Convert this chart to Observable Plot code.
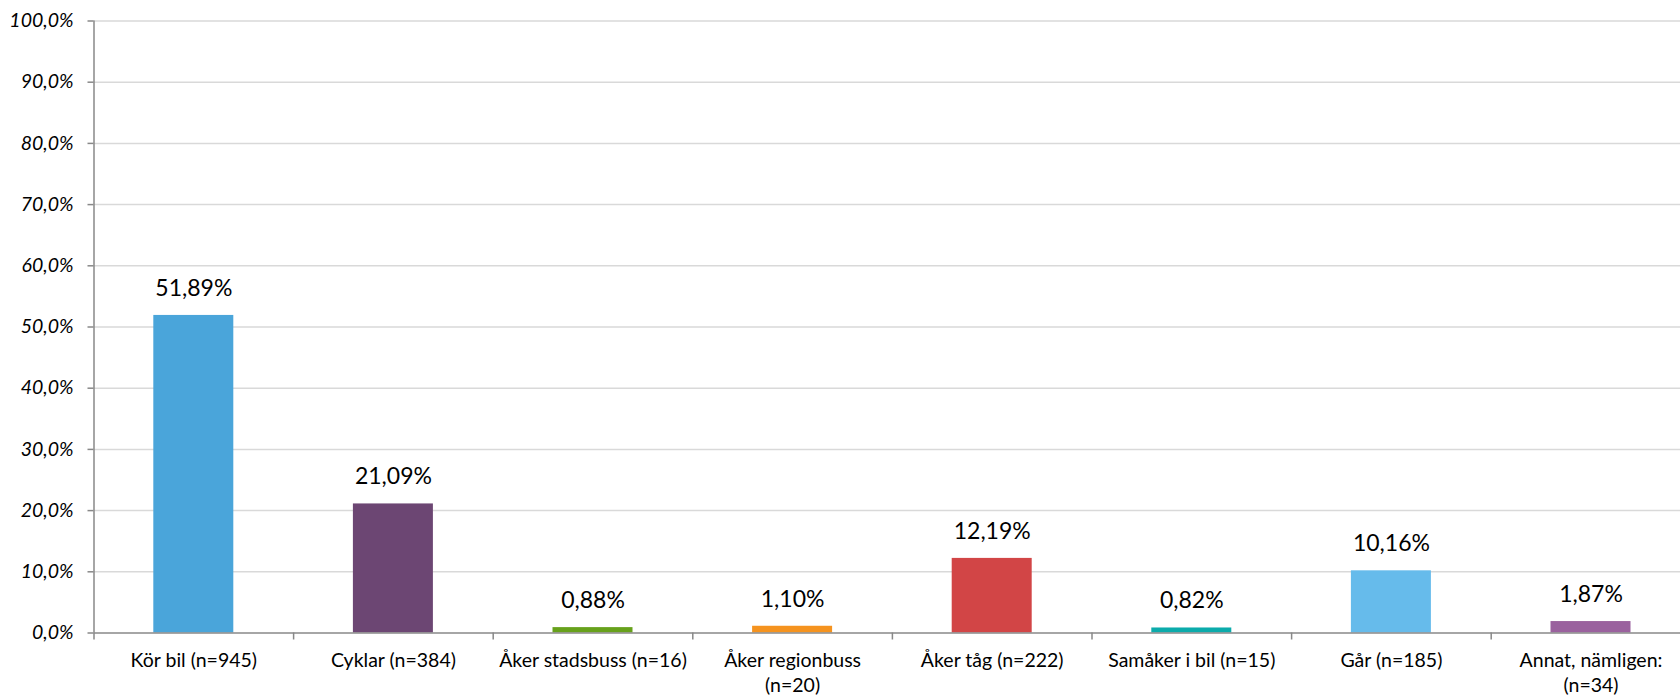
<!DOCTYPE html>
<html>
<head>
<meta charset="utf-8">
<script src="https://cdn.jsdelivr.net/npm/d3@7"></script>
<script src="https://cdn.jsdelivr.net/npm/@observablehq/plot@0.6"></script>
<style>
  html, body { margin: 0; padding: 0; background: #fff; overflow: hidden; }
  #chart svg { display: block; }
</style>
</head>
<body>
<div id="chart"></div>
<script>
const categories = [
  "Kör bil (n=945)",
  "Cyklar (n=384)",
  "Åker stadsbuss (n=16)",
  "Åker regionbuss (n=20)",
  "Åker tåg (n=222)",
  "Samåker i bil (n=15)",
  "Går (n=185)",
  "Annat, nämligen: (n=34)"
];
const tickLabels = [
  "Kör bil (n=945)",
  "Cyklar (n=384)",
  "Åker stadsbuss (n=16)",
  "Åker regionbuss\n(n=20)",
  "Åker tåg (n=222)",
  "Samåker i bil (n=15)",
  "Går (n=185)",
  "Annat, nämligen:\n(n=34)"
];
const values = [51.89, 21.09, 0.88, 1.10, 12.19, 0.82, 10.16, 1.87];
const colors = ["#4aa5da", "#6c4673", "#67a11b", "#f5931f", "#d24546", "#0cabab", "#66bbeb", "#9a619e"];
const yTicks = [0, 10, 20, 30, 40, 50, 60, 70, 80, 90, 100];

const table = categories.map((c, i) => ({
  category: c,
  label: tickLabels[i],
  value: values[i],
  color: colors[i],
  start: i,
  end: i + 1
}));
const boundaries = d3.range(categories.length + 1);

const fmtAxis = d => d.toFixed(1).replace(".", ",") + "%";
const fmtVal = d => d.toFixed(2).replace(".", ",") + "%";

const chart = Plot.plot({
  width: 1680,
  height: 696,
  marginLeft: 93.5,
  marginRight: -10.3,
  marginTop: 20.5,
  marginBottom: 63.5,
  style: { fontFamily: "Lato, 'Open Sans', sans-serif", background: "#fff", color: "#000" },
  x: { domain: [0, categories.length], axis: null },
  y: { domain: [0, 100], axis: null },
  color: { type: "identity" },
  marks: [
    Plot.ruleY(yTicks.slice(1), { stroke: "#d9d9d9", strokeWidth: 1.5 }),
    Plot.rectY(table, {
      x1: "start", x2: "end", y: "value", fill: "color",
      insetLeft: 59.8, insetRight: 59.8
    }),
    Plot.ruleX([0], { stroke: "#888", strokeWidth: 1.5 }),
    Plot.ruleY([0], { stroke: "#888", strokeWidth: 1.5 }),
    Plot.axisY({
      ticks: yTicks, tickSize: 6, tickPadding: 14.5, tickFormat: fmtAxis,
      fontStyle: "italic", fontSize: 19.5, stroke: "#888", strokeWidth: 1.5,
      fill: "#000", label: null
    }),
    Plot.axisX({
      ticks: boundaries, tickSize: 7, tickFormat: () => "",
      stroke: "#888", strokeWidth: 1.5, label: null
    }),
    Plot.text(table, {
      x: d => (d.start + d.end) / 2, y: 0, text: "label",
      lineAnchor: "top", dy: 15.5, lineHeight: 1.3, fontSize: 19.5, fill: "#000"
    }),
    Plot.text(table, {
      x: d => (d.start + d.end) / 2, y: "value", text: d => fmtVal(d.value),
      dy: -27, fontSize: 23, fill: "#000"
    })
  ]
});
document.getElementById("chart").appendChild(chart);
</script>
</body>
</html>
